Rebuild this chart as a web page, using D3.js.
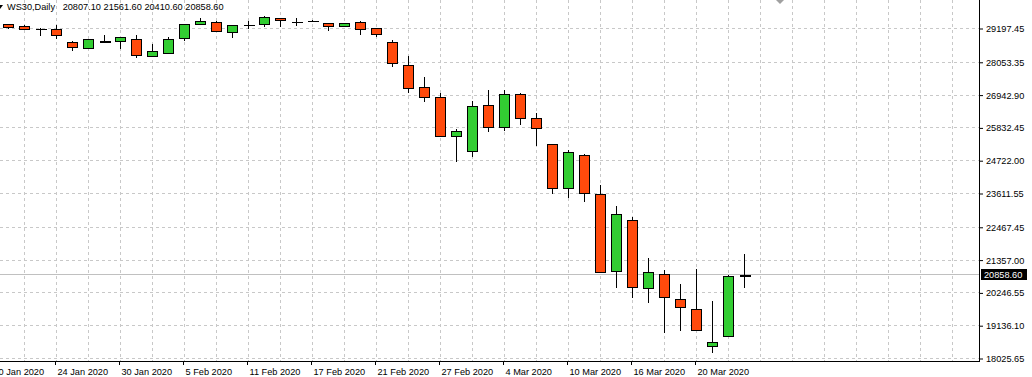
<!DOCTYPE html>
<html>
<head>
<meta charset="utf-8">
<script src="https://cdn.jsdelivr.net/npm/d3@7"></script>
<style>
body { margin: 0; background: #fff; }
svg { display: block; }
text { font-family: "Liberation Sans", Arial, sans-serif; font-size: 9.2px; fill: #000; }
</style>
</head>
<body>
<script>
// WS30 daily bars
var dates = ["2020-01-21","2020-01-22","2020-01-23","2020-01-24","2020-01-27","2020-01-28","2020-01-29","2020-01-30","2020-01-31",
	"2020-02-03","2020-02-04","2020-02-05","2020-02-06","2020-02-07","2020-02-10","2020-02-11","2020-02-12","2020-02-13","2020-02-14",
	"2020-02-17","2020-02-18","2020-02-19","2020-02-20","2020-02-21","2020-02-24","2020-02-25","2020-02-26","2020-02-27","2020-02-28",
	"2020-03-02","2020-03-03","2020-03-04","2020-03-05","2020-03-06","2020-03-09","2020-03-10","2020-03-11","2020-03-12","2020-03-13",
	"2020-03-16","2020-03-17","2020-03-18","2020-03-19","2020-03-20","2020-03-23","2020-03-24","2020-03-25"];
var opens = [29316,29265,29150,29174,28713,28510,28752,28747,28825,28250,28375,28849,29309,29390,29052,29285,29323,29526,29405,29455,
	29357,29265,29390,29187,28713,27945,27190,26852,25518,25010,26581,25836,26953,26141,25261,23771,24898,23568,20972,22688,
	20386,20860,20014,19676,18457,18748,20807.10];
var highs = [29335,29310,29200,29289,28757,28825,28950,28893,28960,28646,28903,29333,29526,29424,29299,29424,29614,29546,29526,29470,
	29367,29377,29445,29197,28791,28250,27529,26987,25779,26736,27099,27099,27007,26330,25271,25068,24943,23883,23172,22810,
	21402,21006,20532,21029,19956,20837,21561.60];
var lows = [29163,29120,28937,28835,28429,28504,28713,28476,28172,28233,28341,28747,29299,29052,28869,29174,29241,29241,29275,29425,
	29106,29255,28960,28883,27887,26987,26703,25508,24672,24841,25687,25711,25924,25213,23568,23453,23317,20894,20386,20068,
	19899,18883,18951,18958,18206,18738,20410.60];
var closes = [29214,29153,29155,28984,28554,28815,28782,28883,28283,28429,28835,29323,29424,29072,29289,29292,29560,29445,29415,29435,
	29265,29367,29140,28988,28003,27156,26852,25518,25701,26547,25836,26953,26141,25802,23771,24990,23602,20914,22891,20420,
	20928,20081,19743,18965,18579,20793,20858.60];

var priceTicks = [29197.45,28053.35,26942.90,25832.45,24722.00,23611.55,22467.45,21357.00,20246.55,19136.10,18025.65];
var dateLabels = ["20 Jan 2020","24 Jan 2020","30 Jan 2020","5 Feb 2020","11 Feb 2020","17 Feb 2020","21 Feb 2020",
	"27 Feb 2020","4 Mar 2020","10 Mar 2020","16 Mar 2020","20 Mar 2020"];
var title = "WS30,Daily";
var lastBar = [20807.10, 21561.60, 20410.60, 20858.60];
var lastPrice = 20858.60;

var larg = 1032, haut = 377;
var plotRight = 979, plotBottom = 361;

var bars = dates.map(function(d, i) {
	return {i: i, date: d, o: opens[i], h: highs[i], l: lows[i], c: closes[i]};
});

var xScale = d3.scaleLinear()
	.domain([0, dates.length - 1])
	.range([8, 744]);

var yScale = d3.scaleLinear()
	.domain([18025.65, 29197.45])
	.range([358, 28]);

var svg = d3.select("body")
	.append("svg")
	.attr("width", larg)
	.attr("height", haut);

// grid
var step = xScale(1) - xScale(0);
var gridIdx = d3.range(1, (plotRight - xScale(0)) / step, 2);
svg.append("g").selectAll("line")
	.data(gridIdx)
	.enter()
	.append("line")
	.attr("x1", function(d) { return Math.round(xScale(d)) + 0.5; })
	.attr("x2", function(d) { return Math.round(xScale(d)) + 0.5; })
	.attr("y1", 0)
	.attr("y2", plotBottom)
	.attr("stroke", "#c8c8c8")
	.attr("stroke-dasharray", "3,3");

svg.append("g").selectAll("line")
	.data(priceTicks)
	.enter()
	.append("line")
	.attr("x1", 0)
	.attr("x2", plotRight)
	.attr("y1", function(d) { return Math.round(yScale(d)) + 0.5; })
	.attr("y2", function(d) { return Math.round(yScale(d)) + 0.5; })
	.attr("stroke", "#c8c8c8")
	.attr("stroke-dasharray", "3,3");

// last price line
svg.append("line")
	.attr("x1", 0)
	.attr("x2", plotRight)
	.attr("y1", Math.round(yScale(lastPrice)) + 0.5)
	.attr("y2", Math.round(yScale(lastPrice)) + 0.5)
	.attr("stroke", "#c0c0c0");

// candles
var cx = function(d) { return Math.round(xScale(d.i)) + 0.5; };
var g = svg.append("g").attr("shape-rendering", "crispEdges");

g.selectAll("line.wick")
	.data(bars)
	.enter()
	.append("line")
	.attr("class", "wick")
	.attr("x1", cx)
	.attr("x2", cx)
	.attr("y1", function(d) { return Math.round(yScale(d.h)); })
	.attr("y2", function(d) { return Math.round(yScale(d.l)); })
	.attr("stroke", "#000");

var bodies = bars.filter(function(d) { return Math.abs(yScale(d.o) - yScale(d.c)) >= 2; });
var dojis = bars.filter(function(d) { return Math.abs(yScale(d.o) - yScale(d.c)) < 2; });

g.selectAll("rect.body")
	.data(bodies)
	.enter()
	.append("rect")
	.attr("class", "body")
	.attr("x", function(d) { return cx(d) - 5; })
	.attr("width", 10)
	.attr("y", function(d) { return Math.round(yScale(Math.max(d.o, d.c))) + 0.5; })
	.attr("height", function(d) { return Math.max(1, Math.round(Math.abs(yScale(d.o) - yScale(d.c)))); })
	.attr("fill", function(d) { return d.c >= d.o ? "#32cd32" : "#ff4a0c"; })
	.attr("stroke", "#000");

g.selectAll("line.doji")
	.data(dojis)
	.enter()
	.append("line")
	.attr("class", "doji")
	.attr("x1", function(d) { return cx(d) - 5; })
	.attr("x2", function(d) { return cx(d) + 6; })
	.attr("y1", function(d) { return Math.round(yScale((d.o + d.c) / 2)) + 0.5; })
	.attr("y2", function(d) { return Math.round(yScale((d.o + d.c) / 2)) + 0.5; })
	.attr("stroke", "#000")
	.attr("stroke-width", function(d) { return Math.abs(yScale(d.o) - yScale(d.c)) >= 0.8 ? 2 : 1; });

// frame
svg.append("line")
	.attr("x1", plotRight + 0.5).attr("x2", plotRight + 0.5)
	.attr("y1", 0).attr("y2", plotBottom + 1)
	.attr("stroke", "#000");
svg.append("line")
	.attr("x1", 0).attr("x2", plotRight + 1)
	.attr("y1", plotBottom + 0.5).attr("y2", plotBottom + 0.5)
	.attr("stroke", "#000");

// price axis
var yAxis = d3.axisRight(yScale)
	.tickValues(priceTicks)
	.tickSize(3)
	.tickPadding(3)
	.tickFormat(d3.format(".2f"));
var ya = svg.append("g")
	.attr("transform", "translate(" + (plotRight + 1) + ",0.5)")
	.call(yAxis);
ya.select(".domain").remove();
ya.selectAll("text").attr("font-size", null).attr("font-family", null);

// bottom date axis
var labelIdx = dateLabels.map(function(t, k) { return 4 * k - 1; });
var xAxis = d3.axisBottom(xScale)
	.tickValues(labelIdx)
	.tickSize(3)
	.tickFormat(function(d, k) { return dateLabels[k]; });
var xa = svg.append("g")
	.attr("transform", "translate(-1," + (plotBottom + 1) + ")")
	.call(xAxis);
xa.select(".domain").remove();
xa.selectAll("text")
	.attr("text-anchor", "start")
	.attr("x", 2)
	.attr("font-size", null).attr("font-family", null);

// last price label
var ly = Math.round(yScale(lastPrice));
svg.append("rect")
	.attr("x", plotRight + 2)
	.attr("y", ly - 5)
	.attr("width", 46)
	.attr("height", 11)
	.attr("fill", "#000");
svg.append("text")
	.attr("x", plotRight + 5)
	.attr("y", ly + 4)
	.style("fill", "#fff")
	.text(d3.format(".2f")(lastPrice));

// header
svg.append("path")
	.attr("d", "M-3,5 L3,5 L0,9 Z")
	.attr("fill", "#000");
svg.append("text")
	.attr("x", 7)
	.attr("y", 10)
	.attr("xml:space", "preserve")
	.text(title + "   " + lastBar.map(d3.format(".2f")).join(" "));

// shift marker
svg.append("path")
	.attr("d", "M776,0 L784,0 L780,4 Z")
	.attr("fill", "#a0a0a0");
</script>
</body>
</html>
